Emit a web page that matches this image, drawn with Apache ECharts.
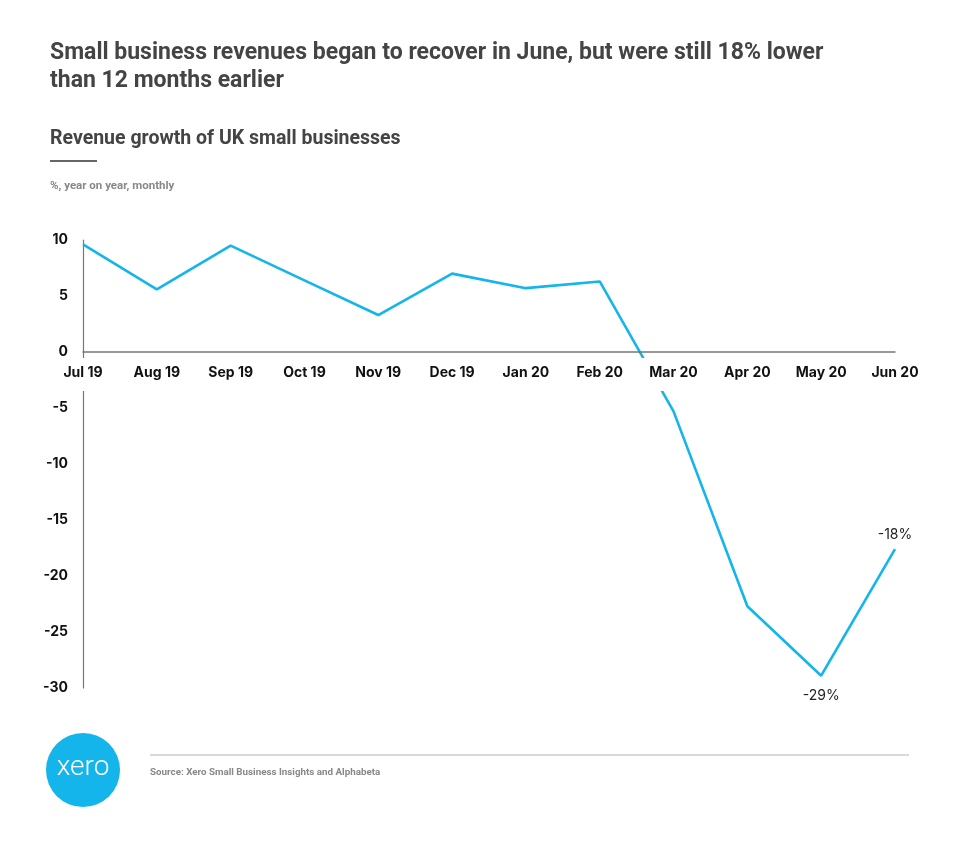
<!DOCTYPE html>
<html><head><meta charset="utf-8">
<script src="https://cdn.jsdelivr.net/npm/echarts@6/dist/echarts.min.js"></script>
<style>html,body{margin:0;padding:0;background:#fff}#c{width:960px;height:859px}</style>
</head><body><div id="c"></div>
<script>
const categories = ['Jul 19','Aug 19','Sep 19','Oct 19','Nov 19','Dec 19','Jan 20','Feb 20','Mar 20','Apr 20','May 20','Jun 20'];
const revenueGrowth = [9.6, 5.6, 9.5, 6.4, 3.3, 7.0, 5.7, 6.3, -5.3, -22.7, -28.9, -17.6];
const pointLabels = ['', '', '', '', '', '', '', '', '', '', '-29%', '-18%'];
const yMin = -30, yMax = 10, yStep = 5;

const BLUE = '#13b5ea';
const chart = echarts.init(document.getElementById('c'));
const lowest = Math.min(...revenueGrowth);

const seriesData = revenueGrowth.map((v, i) => {
  const t = pointLabels[i];
  if (!t) return v;
  return {
    value: v,
    label: {
      show: true,
      formatter: t,
      position: v === lowest ? 'bottom' : 'top',
      distance: v === lowest ? 13 : 7
    }
  };
});

const option = {
  animation: false,
  backgroundColor: '#fff',
  textStyle: { fontFamily: 'Inter, Roboto, sans-serif' },
  title: [
    { text: 'Small business revenues began to recover in June, but were still 18% lower\nthan 12 months earlier',
      left: 50, top: 39, padding: 0,
      textStyle: { fontFamily: 'Roboto', fontWeight: 'bold', fontSize: 23, color: '#444', lineHeight: 28 } },
    { text: 'Revenue growth of UK small businesses', left: 50, top: 129, padding: 0,
      textStyle: { fontFamily: 'Roboto', fontWeight: 'bold', fontSize: 19.5, color: '#444' } },
    { text: '%, year on year, monthly', left: 50, top: 180, padding: 0,
      textStyle: { fontFamily: 'Roboto', fontWeight: 'bold', fontSize: 11.5, color: '#888' } },
    { text: 'Source: Xero Small Business Insights and Alphabeta', left: 150, top: 768, padding: 0,
      textStyle: { fontFamily: 'Roboto', fontWeight: 'bold', fontSize: 9.8, color: '#888' } }
  ],
  grid: { left: 83, right: 65, top: 240, bottom: 171, containLabel: false },
  xAxis: {
    type: 'category',
    data: categories,
    boundaryGap: false,
    z: 20,
    axisLine: { onZero: false, lineStyle: { color: '#777', width: 1.5 } },
    axisTick: { show: false },
    axisLabel: { margin: 14, color: '#111', fontFamily: 'Inter', fontWeight: 'bold', fontSize: 14, interval: 0 },
    splitLine: { show: false }
  },
  yAxis: {
    type: 'value',
    min: yMin, max: yMax, interval: yStep,
    axisLine: { show: true, lineStyle: { color: '#777', width: 1.2 } },
    axisTick: { show: false },
    axisLabel: { margin: 15, color: '#111', fontFamily: 'Inter', fontWeight: 'bold', fontSize: 14 },
    splitLine: { show: false }
  },
  series: [{
    type: 'line',
    data: seriesData,
    symbol: 'circle',
    symbolSize: 0,
    showSymbol: true,
    lineStyle: { color: BLUE, width: 2.6 },
    itemStyle: { color: BLUE },
    label: { color: '#222', fontFamily: 'Inter', fontSize: 14 }
  }]
};
chart.setOption(option);

const y0 = chart.convertToPixel({ yAxisIndex: 0 }, 0);
const yBottom = chart.convertToPixel({ yAxisIndex: 0 }, yMin);
chart.setOption({
  xAxis: { offset: y0 - yBottom },
  graphic: [
    { type: 'rect', z: 10, shape: { x: 0, y: y0 + 6, width: 960, height: 33 }, style: { fill: '#fff' } },
    { type: 'line', z: 10, shape: { x1: 50, y1: 161, x2: 97, y2: 161 }, style: { stroke: '#666', lineWidth: 2 } },
    { type: 'line', z: 10, shape: { x1: 150, y1: 755, x2: 909, y2: 755 }, style: { stroke: '#ccc', lineWidth: 1.5 } },
    { type: 'circle', z: 10, shape: { cx: 83, cy: 770, r: 37 }, style: { fill: BLUE } },
    { type: 'text', z: 11, x: 83, y: 768, style: { text: 'xero', fill: '#fff', font: '300 28px Roboto, sans-serif', align: 'center', verticalAlign: 'middle' } }
  ]
});
</script></body></html>
